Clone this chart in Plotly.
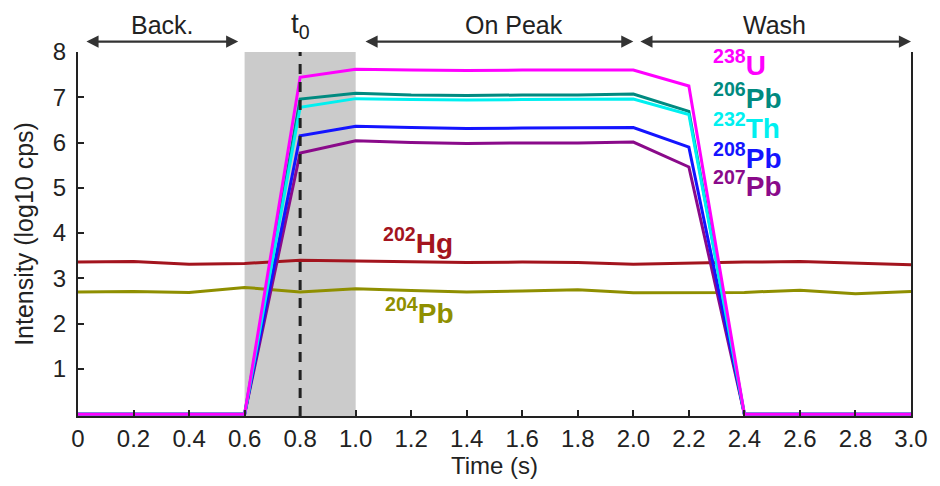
import plotly.graph_objects as go

# ---- data ----
time_s = [0.0, 0.2, 0.4, 0.6, 0.8, 1.0, 1.2, 1.4, 1.6, 1.8, 2.0, 2.2, 2.4, 2.6, 2.8, 3.0]
u238 = [0, 0, 0, 0, 7.44, 7.62, 7.60, 7.59, 7.60, 7.60, 7.60, 7.25, 0, 0, 0, 0]
pb206 = [0, 0, 0, 0, 6.96, 7.09, 7.05, 7.04, 7.05, 7.05, 7.07, 6.69, 0, 0, 0, 0]
th232 = [0, 0, 0, 0, 6.78, 6.97, 6.95, 6.94, 6.95, 6.95, 6.96, 6.62, 0, 0, 0, 0]
pb208 = [0, 0, 0, 0, 6.15, 6.36, 6.33, 6.31, 6.32, 6.32, 6.33, 5.90, 0, 0, 0, 0]
pb207 = [0, 0, 0, 0, 5.77, 6.04, 6.00, 5.98, 5.99, 5.99, 6.01, 5.46, 0, 0, 0, 0]
hg202 = [3.36, 3.37, 3.31, 3.33, 3.40, 3.38, 3.37, 3.35, 3.36, 3.35, 3.31, 3.34, 3.36, 3.37, 3.34, 3.30]
pb204 = [2.70, 2.71, 2.69, 2.80, 2.70, 2.77, 2.73, 2.70, 2.72, 2.75, 2.68, 2.69, 2.69, 2.74, 2.66, 2.71]

x_ticks = [0.0, 0.2, 0.4, 0.6, 0.8, 1.0, 1.2, 1.4, 1.6, 1.8, 2.0, 2.2, 2.4, 2.6, 2.8, 3.0]
x_ticktext = ["0", "0.2", "0.4", "0.6", "0.8", "1.0", "1.2", "1.4", "1.6", "1.8",
              "2.0", "2.2", "2.4", "2.6", "2.8", "3.0"]
y_ticks = [1, 2, 3, 4, 5, 6, 7, 8]

series = [
    ("202Hg", hg202, "#a3141e"),
    ("204Pb", pb204, "#8f8f00"),
    ("207Pb", pb207, "#8a0a8a"),
    ("208Pb", pb208, "#1414ff"),
    ("206Pb", pb206, "#008a80"),
    ("232Th", th232, "#00f0f0"),
    ("238U", u238, "#ff00ff"),
]

FONT = "Liberation Sans, Arial, sans-serif"
Y0, Y1 = -0.04, 8.0


def ypaper(v):
    return (v - Y0) / (Y1 - Y0)


fig = go.Figure()
for name, vals, col in series:
    fig.add_trace(go.Scatter(x=time_s, y=vals, mode="lines", name=name,
                             line=dict(color=col, width=3), showlegend=False))

# shaded region and t0 line
fig.add_shape(type="rect", xref="x", yref="y", x0=0.6, x1=1.0, y0=Y0, y1=8,
              fillcolor="#cbcbcb", line=dict(width=0), layer="below")
fig.add_shape(type="line", xref="x", yref="y", x0=0.8, x1=0.8, y0=Y0, y1=8,
              line=dict(color="#222222", width=3, dash="10px,8px"))

# period arrows (above the plot area, in paper units vertically)
arrow_y = ypaper(8.23)
for x0, x1 in [(0.025, 0.577), (1.03, 2.0), (2.02, 3.0)]:
    fig.add_annotation(x=x1, y=arrow_y, ax=x0, ay=0, xref="x", yref="paper",
                       axref="x", ayref="pixel", text="", showarrow=True,
                       arrowhead=2, arrowside="end+start", arrowsize=1.1,
                       arrowwidth=2.2, arrowcolor="#333333")
for txt, xc in [("Back.", 0.305), ("On Peak", 1.57), ("Wash", 2.51)]:
    fig.add_annotation(x=xc, y=ypaper(8.6), xref="x", yref="paper", text=txt,
                       xanchor="center", yanchor="middle",
                       showarrow=False, font=dict(family=FONT, size=25, color="#222222"))
fig.add_annotation(x=0.8, y=ypaper(8.58), xref="x", yref="paper", text="t<sub>0</sub>",
                   xanchor="center", yanchor="middle",
                   showarrow=False, font=dict(family=FONT, size=28, color="#222222"))

# isotope labels
labels = [
    ("<b><sup>238</sup>U</b>", 7.76, "#ff00ff"),
    ("<b><sup>206</sup>Pb</b>", 7.03, "#008a80"),
    ("<b><sup>232</sup>Th</b>", 6.37, "#00f0f0"),
    ("<b><sup>208</sup>Pb</b>", 5.71, "#1414ff"),
    ("<b><sup>207</sup>Pb</b>", 5.09, "#8a0a8a"),
]
for txt, yv, col in labels:
    fig.add_annotation(x=2.28, y=yv, xref="x", yref="y", text=txt, showarrow=False,
                       xanchor="left", font=dict(family=FONT, size=28, color=col))
fig.add_annotation(x=1.09, y=3.82, xref="x", yref="y", text="<b><sup>202</sup>Hg</b>",
                   showarrow=False, xanchor="left",
                   font=dict(family=FONT, size=28, color="#a3141e"))
fig.add_annotation(x=1.10, y=2.29, xref="x", yref="y", text="<b><sup>204</sup>Pb</b>",
                   showarrow=False, xanchor="left",
                   font=dict(family=FONT, size=28, color="#8f8f00"))

fig.update_layout(
    width=940, height=486,
    margin=dict(l=78, r=25, t=52, b=70),
    paper_bgcolor="white", plot_bgcolor="white",
    font=dict(family=FONT, size=24, color="#222222"),
    xaxis=dict(range=[0, 3.0], tickvals=x_ticks, ticktext=x_ticktext,
               showgrid=False, zeroline=False, showline=True, linecolor="#222222",
               linewidth=2, ticks="inside", ticklen=6, tickwidth=2, tickcolor="#222222",
               tickfont=dict(size=24), title=dict(text="Time (s)", font=dict(size=24), standoff=2)),
    yaxis=dict(range=[Y0, Y1], tickvals=y_ticks, showgrid=False, zeroline=False,
               showline=True, mirror=True, linecolor="#222222", linewidth=2,
               ticks="inside", ticklen=6, tickwidth=2, tickcolor="#222222",
               tickfont=dict(size=24), ticklabelstandoff=5,
               title=dict(text="Intensity (log10 cps)", font=dict(size=25), standoff=12)),
)

fig.write_html("out.html")
